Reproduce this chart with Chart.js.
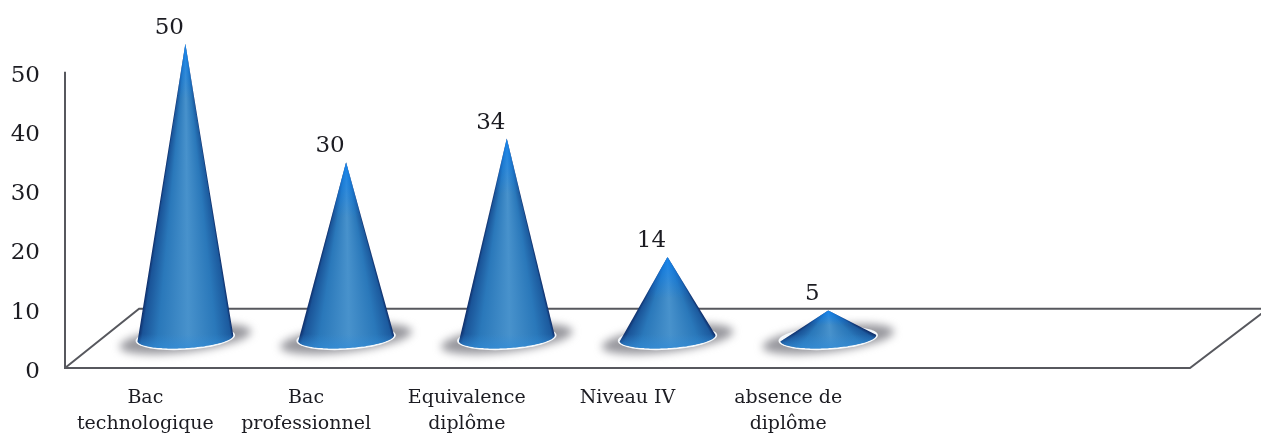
<!DOCTYPE html>
<html><head><meta charset="utf-8">
<style>html,body{margin:0;padding:0;background:#fff;overflow:hidden}canvas{display:block}</style>
<script src="https://cdn.jsdelivr.net/npm/chart.js@4"></script></head>
<body><canvas id="c" width="1261" height="433"></canvas>
<script>
const categories = [["Bac","technologique"],["Bac","professionnel"],["Equivalence","diplôme"],["Niveau IV",""],["absence de","diplôme"],"",""];
const values = [50,30,34,14,5,null,null];
const tickValues = [0,10,20,30,40,50];
const FONT = '"DejaVu Serif"';
const INK = '#1c1c22';
const PX_PER_UNIT = 5.94, DEPTH_MID_X = 40, DEPTH_MID_Y = 32, LABEL_DX = 24, TICK_SHIFT = 4;

const shade=[[1,'rgb(14,44,104)'],[0.95,'rgb(28,90,158)'],[0.65,'rgb(42,120,186)'],[0.05,'rgb(72,146,204)'],[-0.6,'rgb(42,120,186)'],[-0.93,'rgb(26,84,152)'],[-1,'rgb(14,44,104)']];
function drawCone(ctx,cx,apexY,baseY){
  const rx=48, ry=10, cy=baseY-2, tilt=-0.06;
  // floor shadow
  ctx.save();
  ctx.filter='blur(4px)';
  ctx.fillStyle='rgba(125,125,132,0.8)';
  ctx.translate(cx,cy+1);ctx.rotate(-0.12);
  ctx.beginPath();ctx.ellipse(0,0,66,13,0,0,Math.PI*2);ctx.fill();
  ctx.restore();
  // base rim
  ctx.save();
  ctx.translate(cx,cy);ctx.rotate(tilt);
  ctx.fillStyle='#f4f8fb';
  ctx.beginPath();ctx.ellipse(0,0,rx+1.8,ry+1.8,0,0,Math.PI*2);ctx.fill();
  ctx.restore();
  const cos=Math.cos(tilt),sin=Math.sin(tilt);
  const pt=th=>{const x=rx*Math.cos(th),y=ry*Math.sin(th);return [cx+x*cos-y*sin,cy+x*sin+y*cos];};
  const h=baseY-apexY, N=80;
  ctx.save();
  ctx.beginPath();ctx.moveTo(cx,apexY);
  for(let i=0;i<=N;i++){const p=pt(Math.PI*i/N-0.05);ctx.lineTo(p[0],p[1]);}
  ctx.closePath();ctx.clip();
  // conic shading fanning out of the apex
  const cg=ctx.createConicGradient(0,cx,apexY);
  shade.forEach(([u,c])=>{
    const p=pt(Math.acos(u));
    cg.addColorStop(Math.atan2(p[1]-apexY,p[0]-cx)/(2*Math.PI),c);
  });
  ctx.fillStyle=cg;ctx.fillRect(cx-rx-4,apexY-1,rx*2+8,h+20);
  // brighter tip and lighter bottom edge
  const g=ctx.createLinearGradient(0,apexY,0,apexY+Math.min(55,h*0.5));
  g.addColorStop(0,'rgba(20,130,235,0.95)');g.addColorStop(1,'rgba(20,130,235,0)');
  ctx.fillStyle=g;ctx.fillRect(cx-rx-2,apexY,rx*2+4,h);
  const g2=ctx.createLinearGradient(0,baseY-6,0,baseY+10);
  g2.addColorStop(0,'rgba(50,140,215,0)');g2.addColorStop(1,'rgba(50,140,215,0.8)');
  ctx.fillStyle=g2;ctx.fillRect(cx-rx-2,baseY-6,rx*2+4,20);
  ctx.restore();
}
const conePlugin={
  id:'cones',
  beforeDatasetsDraw(chart){
    const {ctx,scales:{x,y}}=chart;
    const x0=x.left,x1=x.right,y0=y.getPixelForValue(0)-TICK_SHIFT,yTop=y.getPixelForValue(50)-TICK_SHIFT,yBack=y.getPixelForValue(10)-TICK_SHIFT;
    const dx=(y0-yBack)*1.25;
    ctx.save();
    ctx.strokeStyle='#57585e';ctx.lineWidth=2;
    ctx.beginPath();
    ctx.moveTo(x0,yTop);ctx.lineTo(x0,y0);ctx.lineTo(x1,y0);
    ctx.lineTo(x1+dx,yBack+3);
    ctx.moveTo(x0,y0);ctx.lineTo(x0+dx,yBack);ctx.lineTo(x1+dx,yBack);
    ctx.stroke();
    ctx.restore();
  },
  afterDatasetsDraw(chart){
    const {ctx}=chart;
    const bars=chart.getDatasetMeta(0).data;
    bars.forEach((b,i)=>{ if(values[i]!=null) drawCone(ctx,b.x+DEPTH_MID_X,b.y,b.base); });
    ctx.save();
    ctx.fillStyle=INK;ctx.font='23px '+FONT;ctx.textAlign='center';ctx.textBaseline='middle';
    bars.forEach((b,i)=>{ if(values[i]!=null) ctx.fillText(String(values[i]),b.x+LABEL_DX,b.y-16); });
    ctx.restore();
  }
};
const H=334; // plot height in px
new Chart(document.getElementById('c'),{
  type:'bar',
  data:{labels:categories,datasets:[{data:values,yAxisID:'yCone',backgroundColor:'transparent',borderWidth:0}]},
  plugins:[conePlugin],
  options:{
    responsive:false,animation:false,devicePixelRatio:1,
    layout:{padding:{top:8,right:71,left:0,bottom:0}},
    plugins:{legend:{display:false},tooltip:{enabled:false},title:{display:false}},
    scales:{
      x:{grid:{display:false},border:{display:false},
        afterFit(s){s.height=61;},
        ticks:{autoSkip:false,maxRotation:0,minRotation:0,padding:5,color:INK,font:{family:FONT,size:19,lineHeight:1.37}}},
      y:{position:'left',min:0,max:H/PX_PER_UNIT,grid:{display:false,drawTicks:false},border:{display:false},
        afterFit(s){s.width=65;},
        afterBuildTicks(s){s.ticks=tickValues.map(v=>({value:v}));},
        ticks:{padding:25,color:INK,font:{family:FONT,size:23}}},
      yCone:{display:false,min:-DEPTH_MID_Y/PX_PER_UNIT,max:(H-DEPTH_MID_Y)/PX_PER_UNIT}
    }
  }
});
</script></body></html>
